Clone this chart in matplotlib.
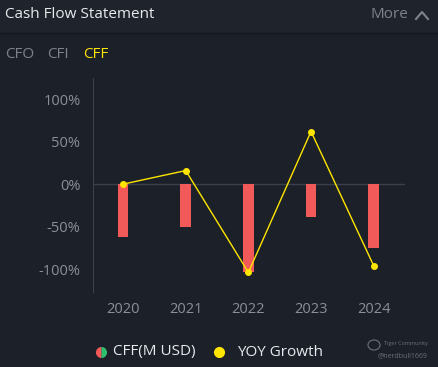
import matplotlib
matplotlib.use("Agg")
import matplotlib.pyplot as plt
from matplotlib.lines import Line2D
from matplotlib.patches import Rectangle, Circle

# Dados
anos = [2020, 2021, 2022, 2023, 2024]
cff_pct = [-62, -51, -104, -39, -75]      # barras (escala relativa)
yoy_growth = [0, 16, -104, 62, -96]        # crescimento YOY (%)
yticks = [-100, -50, 0, 50, 100]
ytick_labels = ["-100%", "-50%", "0%", "50%", "100%"]
abas = ["CFO", "CFI", "CFF"]

fundo = "#1b2029"
fundo_topo = "#1f242c"
cinza = "#8a9099"
vermelho = "#f25a5a"
amarelo = "#ffe500"

plt.rcParams['font.family'] = ['Open Sans', 'DejaVu Sans']

fig = plt.figure(figsize=(4.38, 3.67), dpi=100, facecolor=fundo)

# Cabeçalho
fig.add_artist(Rectangle((0, 1 - 33/367), 1, 33/367, transform=fig.transFigure,
                         facecolor=fundo_topo, edgecolor="none"))
fig.add_artist(Line2D([0, 1], [1 - 33/367, 1 - 33/367], transform=fig.transFigure,
                      color="#14181e", lw=1))
fig.text(5/438, 1 - 15/367, "Cash Flow Statement", color="#e8eaed", fontsize=11,
         va="center", ha="left")
fig.text(408/438, 1 - 15/367, "More", color="#7d828b", fontsize=11,
         va="center", ha="right")
fig.add_artist(Line2D([416/438, 422/438, 428/438], [1 - 19/367, 1 - 12/367, 1 - 19/367],
                      transform=fig.transFigure, color="#7d828b", lw=1.5))

# Abas
xs_abas = [5, 47, 83]
for x, nome in zip(xs_abas, abas):
    cor = amarelo if nome == "CFF" else "#7d828b"
    fig.text(x/438, 1 - 55/367, nome, color=cor, fontsize=11, va="center", ha="left")

# Eixo principal
ax = fig.add_axes([93/438, 1 - 292/367, (405 - 93)/438, (292 - 78)/367])
ax.set_facecolor(fundo)
ax.bar(anos, cff_pct, width=0.17, color=vermelho, zorder=2)
ax.plot(anos, yoy_growth, color=amarelo, lw=1, marker="o", markersize=4, zorder=3)
ax.axhline(0, color="#3b414b", lw=1, zorder=1)

ax.set_xlim(2019.52, 2024.5)
ax.set_ylim(-127, 125)
ax.set_yticks(yticks)
ax.set_yticklabels(ytick_labels)
ax.set_xticks(anos)
ax.tick_params(axis="both", colors=cinza, labelsize=10.5, length=0)
ax.tick_params(axis="y", pad=9)
ax.tick_params(axis="x", pad=7)
for lado in ["top", "right", "bottom"]:
    ax.spines[lado].set_visible(False)
ax.spines["left"].set_color("#3b414b")

# Legenda
ly = 1 - 352/367
fig.add_artist(Line2D([101/438], [ly], transform=fig.transFigure, marker="o",
                      markersize=8, fillstyle="left", markerfacecolor="#f25a5a",
                      markerfacecoloralt="#2fbf71", markeredgewidth=0, linestyle="none"))
fig.text(113/438, ly, "CFF(M USD)", color="#e8eaed", fontsize=11, va="center", ha="left")
fig.add_artist(Line2D([219/438], [ly], transform=fig.transFigure, marker="o",
                      markersize=8, markerfacecolor=amarelo, markeredgewidth=0,
                      linestyle="none"))
fig.text(237/438, ly, "YOY Growth", color="#e8eaed", fontsize=11, va="center", ha="left")

# Marca d'água
fig.add_artist(Circle((374/438, 1 - 345/367), 6/438, transform=fig.transFigure,
                      facecolor="none", edgecolor="#6b7079", lw=0.8))
fig.text(428/438, 1 - 344/367, "Tiger Community", color="#6b7079", fontsize=4,
         va="center", ha="right")
fig.text(428/438, 1 - 356/367, "@nerdbull1669", color="#6b7079", fontsize=5,
         va="center", ha="right")

fig.savefig("out.png", dpi=100, facecolor=fundo)
